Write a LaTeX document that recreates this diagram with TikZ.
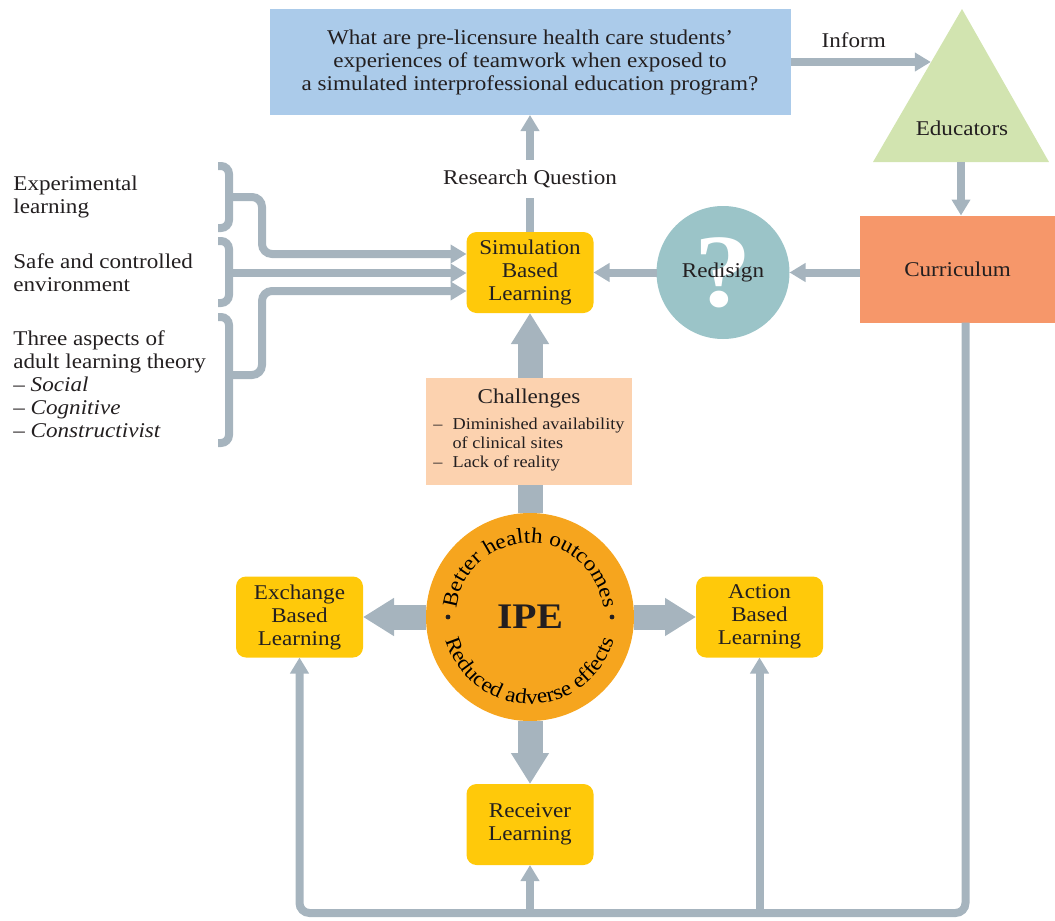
\documentclass[tikz,border=0pt]{standalone}
\usepackage{fontspec}
\setmainfont{Liberation Serif}[FakeStretch=1.1]
\usetikzlibrary{positioning,calc,arrows.meta,shapes.geometric,decorations.text}
\definecolor{lnkgray}{RGB}{166,180,190}
\definecolor{qblue}{RGB}{171,203,234}
\definecolor{edugreen}{RGB}{210,228,176}
\definecolor{currorange}{RGB}{246,151,106}
\definecolor{redteal}{RGB}{155,196,200}
\definecolor{gold}{RGB}{255,201,10}
\definecolor{peach}{RGB}{252,210,175}
\definecolor{ipeorange}{RGB}{246,165,30}
\definecolor{ink}{RGB}{35,31,32}
\newcommand{\bodyfont}{\fontsize{10.5}{11.5}\selectfont}
\newcommand{\smallfont}{\fontsize{8.3}{9.5}\selectfont}
\newcommand{\ringfont}{\fontsize{10.6}{12}\selectfont}
\tikzset{lnk/.style={draw=lnkgray, line width=4pt, -{Triangle[width=9pt,length=8pt]}}}
\tikzset{fat/.style={draw=lnkgray, line width=12.5pt, -{Triangle[width=18pt,length=15.5pt]}}}
\tikzset{brc/.style={draw=lnkgray, line width=4pt, rounded corners=4pt}}
\tikzset{gbox/.style={fill=gold, rounded corners=5pt, minimum width=63.5pt, minimum height=40.5pt, inner sep=1pt, outer sep=0pt, align=center}}
\tikzset{side/.style={anchor=north west, inner sep=0pt, align=left}}
\tikzset{ringtxt/.style={decorate, decoration={text along path, text={|\ringfont|#1}, text align=center}}}

\begin{document}
\begin{tikzpicture}[x=0.5pt, y=-0.5pt, text=ink, font=\bodyfont]
	\useasboundingbox (0,0) rectangle (1055,921);
	\node[fill=ipeorange, circle, minimum size=104pt, inner sep=0pt, outer sep=0pt, font=\bfseries\fontsize{18}{19}\selectfont] (ipe) at (530,617) {IPE};
	\node[gbox, left=31.5pt of ipe] (exch) {Exchange\\Based\\Learning};
	\node[gbox, right=31pt of ipe] (act) {Action\\Based\\Learning};
	\node[gbox, below=31.5pt of ipe] (rec) {Receiver\\Learning};
	\node[gbox, above=100pt of ipe] (sim) {Simulation\\Based\\Learning};
	\node[fill=qblue, minimum width=260.5pt, minimum height=53pt, outer sep=0pt, align=center, above=58.5pt of sim] (rq)
		{What are pre-licensure health care students’\\experiences of teamwork when exposed to\\a simulated interprofessional education program?};
	\node[fill=redteal, circle, minimum size=66.5pt, inner sep=0pt, outer sep=0pt, right=31.5pt of sim] (red) {};
	\node[text=white, font=\bfseries\fontsize{52}{52}\selectfont] (qmark) at (red) {?};
	\node (redtxt) at (red) {Redisign};
	\node[fill=currorange, minimum width=98pt, minimum height=53.5pt, outer sep=0pt, right=35pt of red, yshift=1.75pt] (curr) {Curriculum};
%
	\coordinate (triBL) at (873,162);
	\coordinate (triBR) at (1049,162);
	\coordinate (triT) at (962,9);
	\fill[edugreen] (triBL) -- (triBR) -- (triT) -- cycle;
	\node (edu) at (962,128) {Educators};
	\coordinate (triB) at ($(triBL)!0.5!(triBR)$);
	\coordinate (triL) at ($(triBL)!0.65!(triT)$);
	\draw[lnk] (rq.east) -- node[above=2pt, pos=0.45] (inf) {Inform} (rq.east -| triL);
	\draw[lnk] (triB) -- (triB |- curr.north);
	\draw[lnk] (curr.west |- red) -- (red.east);
	\draw[lnk] (red.west) -- (sim.east |- red.west);
	\draw[lnk] (sim.north) -- node[fill=white, pos=0.45, inner sep=5pt] (rqlbl) {Research Question} (rq.south);
%
	\draw[fat] (ipe.north) -- (sim.south);
	\draw[fat] (ipe.west) -- (exch.east);
	\draw[fat] (ipe.east) -- (act.west);
	\draw[fat] (ipe.south) -- (rec.north);
	\node[fill=peach, minimum width=103pt, minimum height=53.5pt, inner sep=0pt, align=center] (chal) at (529,431.5)
		{Challenges\\[1.5pt]{\smallfont\begin{tabular}[t]{@{}l@{\hspace{5pt}}l@{}}–&Diminished availability\\&of clinical sites\\–&Lack of reality\end{tabular}}};
%
	\path[ringtxt={Better health outcomes}] ([shift={(170:37pt)}]ipe.center) arc[start angle=170, end angle=10, radius=37pt];
	\path[ringtxt={Reduced adverse effects}] ([shift={(190:43.5pt)}]ipe.center) arc[start angle=190, end angle=350, radius=43.5pt];
	\fill[ink] ([xshift=-41pt]ipe.center) circle[radius=1.2pt];
	\fill[ink] ([xshift=41pt]ipe.center) circle[radius=1.2pt];
%
	\node[side] (expl) at (13,176) {Experimental\\learning};
	\node[side] (safe) at (13,253) {Safe and controlled\\environment};
	\node[side] (adult) at (13,330) {Three aspects of\\adult learning theory\\– \textit{Social}\\– \textit{Cognitive}\\– \textit{Constructivist}};
	\draw[brc] (218,166) -| (229,228) -- (218,228);
	\draw[brc] (218,241) -| (229,303) -- (218,303);
	\draw[brc] (218,317) -| (229,443) -- (218,443);
	\coordinate (br1) at (229,197);
	\coordinate (br2) at (229,273);
	\coordinate (br3) at (229,375);
	\draw[lnk, rounded corners=5pt] (br1) -- ++(33,0) |- ([yshift=9.25pt]sim.west);
	\draw[lnk] (br2) -- (br2 -| sim.west);
	\draw[lnk, rounded corners=5pt] (br3) -- ++(33,0) |- ([yshift=-9.25pt]sim.west);
%
	\coordinate (cdrop) at ([xshift=4pt]curr.south);
	\coordinate (floor) at (528,913);
	\draw[lnk, rounded corners=5pt] (cdrop) -- (cdrop |- floor) -| (exch.south);
	\draw[lnk] (rec.south |- floor) -- (rec.south);
	\draw[lnk] (act.south |- floor) -- (act.south);
\end{tikzpicture}
\end{document}
